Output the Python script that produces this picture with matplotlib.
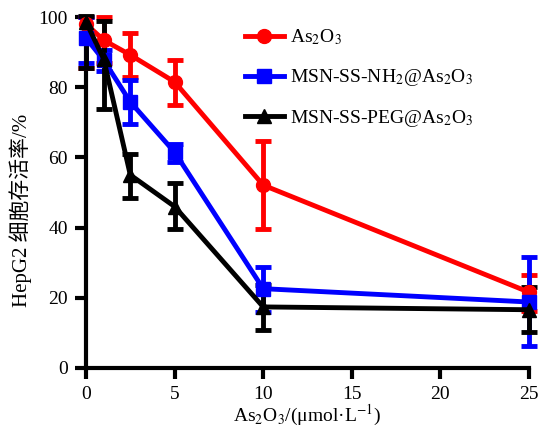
import matplotlib
matplotlib.use("Agg")
import matplotlib.pyplot as plt
import numpy as np

plt.rcParams['font.family'] = ['Liberation Serif', 'Noto Sans CJK SC']
plt.rcParams['mathtext.fontset'] = 'stix'

x = [0, 1, 2.5, 5, 10, 25]
as2o3 = [98, 93.4, 89.2, 81.5, 52.1, 21.6]
as2o3_lo = [12.5, 6.5, 6.3, 6.5, 12.5, 5.4]
as2o3_hi = [2, 6.6, 6.2, 6.2, 12.6, 4.9]
nh2 = [94, 87.7, 75.8, 61.5, 22.6, 18.8]
nh2_lo = [7, 3, 6.3, 2.8, 6.6, 12.5]
nh2_hi = [6, 3, 6.2, 2.3, 6.2, 12.8]
peg = [98.6, 88, 55, 46, 17.4, 16.6]
peg_lo = [13, 14.3, 6.6, 6.4, 6.6, 6.3]
peg_hi = [1.6, 11, 6, 6.7, 6.2, 6.5]
labels = ['As$_2$O$_3$', 'MSN-SS-NH$_2$@As$_2$O$_3$', 'MSN-SS-PEG@As$_2$O$_3$']

fig = plt.figure(figsize=(5.42, 4.30), dpi=100)
ax = fig.add_axes([86/542, 1-368/430, (529-86)/542, (368-17)/430])

styles = [('#ff0000', 'o', 10), ('#0000ff', 's', 10), ('#000000', '^', 10)]
data = [(as2o3, as2o3_lo, as2o3_hi), (nh2, nh2_lo, nh2_hi), (peg, peg_lo, peg_hi)]
handles = []
for (y, lo, hi), (c, m, ms), lab in zip(data, styles, labels):
    eb = ax.errorbar(x, y, yerr=[lo, hi], color=c, marker=m, markersize=ms,
                     lw=3.5, elinewidth=3.5, capsize=6, capthick=3.5, clip_on=False,
                     zorder=3)
    handles.append(eb[0])

ax.set_xlim(0, 25)
ax.set_ylim(0, 100)
ax.set_xticks([0, 5, 10, 15, 20, 25])
ax.set_yticks([0, 20, 40, 60, 80, 100])
for s in ['top', 'right']:
    ax.spines[s].set_visible(False)
for s in ['left', 'bottom']:
    ax.spines[s].set_linewidth(3)
ax.tick_params(width=3, length=8, labelsize=14, direction='out', pad=5)

ax.set_xlabel('As$_2$O$_3$/(μmol·L$^{-1}$)', fontsize=14, labelpad=0)
ax.set_ylabel('HepG2 细胞存活率/%', fontsize=15, labelpad=5)
ax.yaxis.label.set_y(0.45)

ax.legend(handles=handles, labels=labels, loc='upper left', bbox_to_anchor=(237/542, 1-20/430),
          bbox_transform=fig.transFigure, frameon=False, fontsize=14,
          handlelength=2.0, labelspacing=1.02, handletextpad=0.3, borderaxespad=0)

fig.savefig('out.png', dpi=100)
